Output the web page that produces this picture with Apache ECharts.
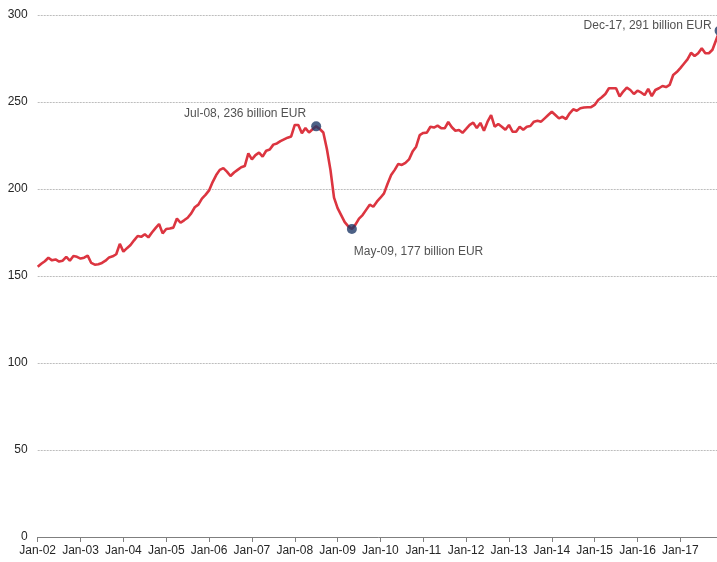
<!DOCTYPE html>
<html>
<head>
<meta charset="utf-8">
<script src="https://cdn.jsdelivr.net/npm/echarts@6/dist/echarts.min.js"></script>
<style>
html,body{margin:0;padding:0;background:#fff;overflow:hidden;}
#chart{width:720px;height:562px;}
</style>
</head>
<body>
<div id="chart"></div>
<script>
// ---- data ----
var years = ['02','03','04','05','06','07','08','09','10','11','12','13','14','15','16','17'];
var monthNames = ['Jan','Feb','Mar','Apr','May','Jun','Jul','Aug','Sep','Oct','Nov','Dec'];
var yTicks = [0, 50, 100, 150, 200, 250, 300];

// monthly values, billion EUR, Jan-02 .. Dec-17
var values2002 = [155.3,157.0,158.5,160.5,159.0,159.5,158.3,158.8,161.0,158.8,161.5,161.0];
var values2003 = [160.0,160.5,161.7,157.5,156.5,156.8,157.5,158.8,160.7,161.3,162.5,168.5];
var values2004 = [164.0,166.0,167.8,170.5,173.0,172.5,174.0,172.2,175.0,177.5,179.9,174.5];
var values2005 = [177.0,177.3,177.8,183.0,180.6,182.0,183.5,186.0,189.5,191.0,194.5,196.6];
var values2006 = [199.2,204.0,208.0,211.0,212.0,210.0,207.5,209.5,211.0,212.5,213.2,220.5];
var values2007 = [217.0,219.5,220.9,218.6,222.0,222.7,225.5,226.2,227.5,228.5,229.5,230.2];
var values2008 = [236.8,236.8,232.0,235.0,232.5,234.3,236.0,234.5,232.5,223.0,211.0,195.0];
var values2009 = [189.0,185.0,181.0,178.5,177.0,179.5,183.0,185.0,188.0,191.0,189.8,192.7];
var values2010 = [195.0,197.5,203.0,208.0,211.0,214.4,213.8,215.0,217.0,221.5,224.3,231.0];
var values2011 = [232.2,232.4,235.8,235.3,236.4,235.0,234.9,238.5,235.5,233.5,233.9,232.3];
var values2012 = [234.5,236.8,238.1,235.0,238.0,233.5,238.7,242.5,235.8,237.4,235.8,234.0];
var values2013 = [236.8,233.0,232.9,235.8,234.0,235.8,236.2,238.7,239.2,238.7,240.6,242.5];
var values2014 = [244.4,242.5,240.6,241.5,240.2,243.5,245.8,245.0,246.4,246.8,247.0,247.0];
var values2015 = [248.3,251.1,252.7,254.6,257.9,257.9,257.9,253.1,256.0,258.3,256.9,254.6];
var values2016 = [256.5,255.5,254.0,257.5,253.4,256.9,257.9,259.2,258.6,259.8,265.5,267.2];
var values2017 = [269.5,272.0,274.5,278.3,276.4,278.0,280.9,278.0,278.0,280.0,285.5,291.0];

// highlighted points
var highlightMonths = ['Jul-08', 'May-09', 'Dec-17'];

// ---- build ----
var categories = [];
years.forEach(function (y) {
  monthNames.forEach(function (m) { categories.push(m + '-' + y); });
});
var values = [].concat(values2002, values2003, values2004, values2005, values2006,
  values2007, values2008, values2009, values2010, values2011, values2012,
  values2013, values2014, values2015, values2016, values2017);

var labelCfg = {
  'Jul-08': {position: 'left', distance: 5, offset: [0, -13]},
  'May-09': {position: 'right', distance: -3, offset: [0, 23]},
  'Dec-17': {position: 'left', distance: 3, offset: [0, -5]}
};
var highlightData = highlightMonths.map(function (m) {
  var idx = categories.indexOf(m);
  var v = values[idx];
  var c = labelCfg[m];
  return {
    value: [m, v],
    label: {
      show: true,
      position: c.position,
      distance: c.distance,
      offset: c.offset,
      formatter: m + ', ' + Math.round(v) + ' billion EUR'
    }
  };
});

var textColor = '#262626';
var font = "'Liberation Sans', Arial, sans-serif";

var chart = echarts.init(document.getElementById('chart'), null, {renderer: 'canvas'});
chart.setOption({
  animation: false,
  backgroundColor: '#fff',
  grid: {left: 37.7, right: 0.4, top: 15, bottom: 25, containLabel: false},
  xAxis: {
    type: 'category',
    data: categories,
    boundaryGap: false,
    axisLine: {show: true, lineStyle: {color: '#7f7f7f', width: 1}},
    axisTick: {show: true, length: 5, lineStyle: {color: '#7f7f7f'},
      interval: function (i) { return i % 12 === 0; }},
    axisLabel: {
      interval: function (i) { return i % 12 === 0; },
      color: textColor, fontFamily: font, fontSize: 12, margin: 8
    },
    splitLine: {show: false}
  },
  yAxis: {
    type: 'value',
    min: yTicks[0],
    max: yTicks[yTicks.length - 1],
    interval: 50,
    axisLine: {show: false},
    axisTick: {show: false},
    axisLabel: {color: textColor, fontFamily: font, fontSize: 12, margin: 10},
    splitLine: {show: true, lineStyle: {color: '#bdbdbd', type: [2, 1], width: 1}}
  },
  series: [
    {
      type: 'line',
      data: values,
      showSymbol: false,
      symbol: 'none',
      lineStyle: {color: '#dc3540', width: 2.6},
      z: 2
    },
    {
      type: 'scatter',
      data: highlightData,
      symbol: 'circle',
      symbolSize: 10,
      itemStyle: {color: '#1f3a68'},
      label: {color: textColor, fontFamily: font, fontSize: 12},
      z: 3
    }
  ]
});
</script>
</body>
</html>
